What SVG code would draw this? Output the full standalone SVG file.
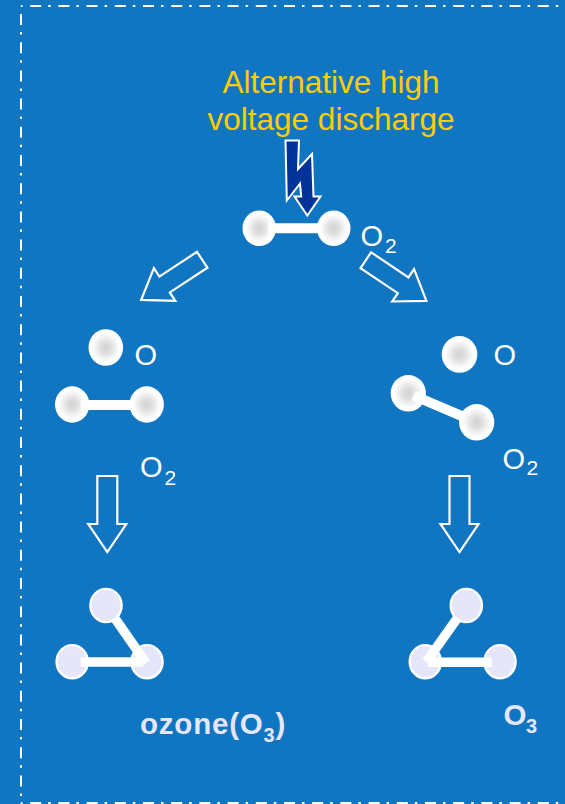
<svg xmlns="http://www.w3.org/2000/svg" width="565" height="804" viewBox="0 0 565 804">
  <defs>
    <radialGradient id="atomShade" cx="50%" cy="50%" r="50%">
      <stop offset="0" stop-color="#d2d2d2"/>
      <stop offset="0.3" stop-color="#dedede"/>
      <stop offset="0.8" stop-color="#ffffff"/>
    </radialGradient>
    <style>
      .atom { fill: url(#atomShade); }
      .bond { stroke: #ffffff; stroke-width: 10; stroke-linecap: butt; fill: none; }
      .o3atom { fill: #e6e6fa; stroke: #ffffff; stroke-width: 2.4; }
      .o3bond { stroke: #ffffff; stroke-width: 9.5; stroke-linecap: butt; fill: none; }
      .hollow { fill: none; stroke: #ffffff; stroke-width: 2.2; stroke-linejoin: miter; }
      .frame { stroke: #ffffff; stroke-width: 2; fill: none; stroke-dasharray: 11 7 2.5 7.7; }
      .label { font-family: "Liberation Sans", Arial, sans-serif; fill: #ffffff; font-size: 29px; }
      .sub { font-size: 21px; }
      .title { font-family: "Liberation Sans", Arial, sans-serif; fill: #ffcc00; font-size: 31.5px; text-anchor: middle; }
      .ozone { font-family: "Liberation Sans", Arial, sans-serif; fill: #e6e6fa; font-size: 29.5px; font-weight: bold; }
    </style>
  </defs>

  <!-- background -->
  <rect x="0" y="0" width="565" height="804" fill="#1076c1"/>

  <!-- dash-dot frame -->
  <g id="frame">
    <line class="frame" x1="21" y1="6" x2="600" y2="6" stroke-dashoffset="19"/>
    <line class="frame" x1="21" y1="6" x2="21" y2="820" stroke-dashoffset="20.2"/>
    <line class="frame" x1="21" y1="803" x2="600" y2="803" stroke-dashoffset="19"/>
  </g>

  <!-- heading -->
  <g id="discharge-label">
    <text class="title" x="331" y="93">Alternative high</text>
    <text class="title" x="331" y="130">voltage discharge</text>
  </g>

  <!-- lightning bolt -->
  <g id="bolt">
    <path d="M285.5,140.5 L299,140.5 L298,169 L312,154 L313.5,196.5 L320.5,196.5 L307.3,215.5 L294.5,196.5 L301.2,196.5 L300,183.5 L286.8,200.5 Z"
          fill="#003399" stroke="#ffffff" stroke-width="2" stroke-linejoin="miter"/>
  </g>

  <!-- reaction arrows -->
  <g id="connectors">
    <path class="hollow" transform="translate(202.2,259.8) rotate(146.7)" d="M0,-9.5 L45,-9.5 L45,-19.5 L73,0 L45,19.5 L45,9.5 L0,9.5 Z"/>
    <path class="hollow" transform="translate(365.8,260.2) rotate(33.9)" d="M0,-9.5 L45,-9.5 L45,-19.5 L73,0 L45,19.5 L45,9.5 L0,9.5 Z"/>
    <path class="hollow" transform="translate(107.3,476) rotate(90)" d="M0,-10 L48,-10 L48,-19 L76,0 L48,19 L48,10 L0,10 Z"/>
    <path class="hollow" transform="translate(459.5,476) rotate(90)" d="M0,-10 L48,-10 L48,-19 L76,0 L48,19 L48,10 L0,10 Z"/>
  </g>

  <!-- oxygen molecule at the top -->
  <g id="o2-top">
    <ellipse class="atom" cx="259.3" cy="228.3" rx="16.8" ry="17.8"/>
    <line class="bond" x1="268.3" y1="228.3" x2="325" y2="228.3"/>
    <ellipse class="atom" cx="333.7" cy="228.3" rx="16.8" ry="17.8"/>
    <text class="label" x="360.5" y="246">O<tspan class="sub" x="385" y="253">2</tspan></text>
  </g>

  <!-- left: split atom and molecule -->
  <g id="o-left">
    <ellipse class="atom" cx="105.8" cy="347.5" rx="17.3" ry="18.3"/>
    <text class="label" x="134.5" y="365">O</text>
  </g>
  <g id="o2-left">
    <ellipse class="atom" cx="72.2" cy="404.5" rx="17.2" ry="18.2"/>
    <line class="bond" x1="80.7" y1="405" x2="140" y2="405"/>
    <ellipse class="atom" cx="146.7" cy="404.5" rx="17.2" ry="18.2"/>
    <text class="label" x="140" y="477">O<tspan class="sub" x="164.5" y="485">2</tspan></text>
  </g>

  <!-- right: split atom and tilted molecule -->
  <g id="o-right">
    <ellipse class="atom" cx="459.5" cy="354.4" rx="17.8" ry="18.4"/>
    <text class="label" x="493.5" y="365">O</text>
  </g>
  <g id="o2-right">
    <ellipse class="atom" cx="408.3" cy="393.3" rx="17.6" ry="18.3"/>
    <line class="bond" x1="413.5" y1="395.5" x2="472" y2="420.3"/>
    <ellipse class="atom" cx="476.7" cy="422.3" rx="17.6" ry="18.3"/>
    <text class="label" x="502.5" y="469">O<tspan class="sub" x="526.5" y="475">2</tspan></text>
  </g>

  <!-- left ozone -->
  <g id="ozone-left">
    <ellipse class="o3atom" cx="72.2" cy="661.7" rx="15.6" ry="16.6"/>
    <ellipse class="o3atom" cx="147" cy="661.7" rx="15.6" ry="16.6"/>
    <line class="o3bond" x1="80.7" y1="662" x2="143" y2="662"/>
    <line class="o3bond" x1="106" y1="605.5" x2="146" y2="663"/>
    <ellipse class="o3atom" cx="106" cy="605.5" rx="15.6" ry="16.6"/>
    <text class="ozone" x="140" y="734" letter-spacing="0.8">ozone(O<tspan font-size="20" dy="8">3</tspan><tspan dy="-8">)</tspan></text>
  </g>

  <!-- right ozone -->
  <g id="ozone-right">
    <ellipse class="o3atom" cx="425.3" cy="661.7" rx="15.6" ry="16.6"/>
    <ellipse class="o3atom" cx="500" cy="661.7" rx="15.6" ry="16.6"/>
    <line class="o3bond" x1="428" y1="662.3" x2="491.7" y2="662.3"/>
    <line class="o3bond" x1="466.3" y1="605.5" x2="426.4" y2="661.8"/>
    <ellipse class="o3atom" cx="466.3" cy="605.5" rx="15.6" ry="16.6"/>
    <text class="ozone" x="503.5" y="725" font-size="28">O<tspan font-size="20" x="526" y="733">3</tspan></text>
  </g>
</svg>
